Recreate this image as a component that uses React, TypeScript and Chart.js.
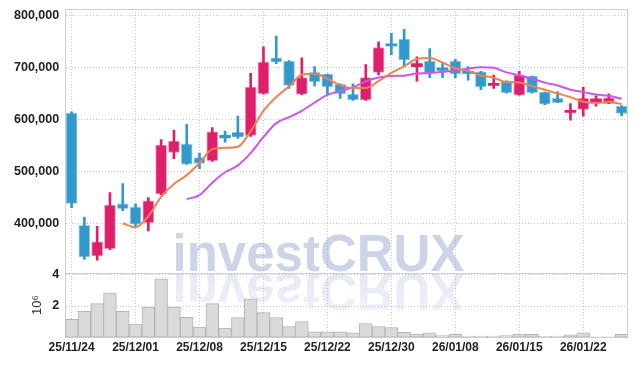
import React, { useEffect, useRef } from 'react';
import { Chart, registerables } from 'chart.js';
Chart.register(...registerables);

const dates = ['25/11/24','25/11/25','25/11/26','25/11/27','25/11/28','25/12/01','25/12/02','25/12/03','25/12/04','25/12/05','25/12/08','25/12/09','25/12/10','25/12/11','25/12/12','25/12/15','25/12/16','25/12/17','25/12/18','25/12/19','25/12/22','25/12/23','25/12/24','25/12/26','25/12/29','25/12/30','26/01/02','26/01/05','26/01/06','26/01/07','26/01/08','26/01/09','26/01/12','26/01/13','26/01/14','26/01/15','26/01/16','26/01/19','26/01/20','26/01/21','26/01/22','26/01/23','26/01/26','26/01/27'];

const opens = [612000,396000,337000,351000,437000,431000,401000,456000,536000,552000,526000,520000,569000,574000,569000,649000,718000,712000,648000,690000,687000,667000,648000,637000,690000,744000,754000,701000,712000,699000,712000,691000,691000,665000,674000,646000,683000,652000,640000,613000,619000,633000,630000,625000];
const highs = [614000,411000,394000,459000,476000,437000,449000,561000,579000,590000,535000,584000,577000,606000,688000,739000,760000,713000,718000,701000,687000,668000,668000,705000,749000,765000,773000,720000,736000,707000,715000,701000,692000,685000,674000,692000,683000,652000,653000,630000,662000,645000,649000,626000];
const lows = [430000,330000,329000,349000,424000,393000,385000,455000,524000,513000,505000,519000,556000,563000,567000,648000,707000,659000,647000,664000,648000,640000,636000,636000,685000,724000,701000,673000,680000,680000,680000,675000,657000,659000,650000,646000,650000,628000,632000,598000,606000,625000,630000,607000];
const closes = [438000,335000,364000,435000,428000,398000,443000,550000,558000,513500,515000,575600,564000,567000,662000,710000,709600,665000,680000,672000,662000,649000,637000,680000,738000,741000,714000,707000,689000,694000,687000,688000,662000,669000,651000,685000,651000,629000,632000,615000,640000,639000,641000,611000];
const ma5 = [null,null,null,null,399900,391900,413500,450600,475300,492400,515800,542400,545200,547100,576800,615900,642700,662800,685400,687300,677700,665600,660000,660000,673200,689000,701800,715900,717700,709000,698100,692900,684000,679900,671200,670800,663300,656700,649400,642400,633400,631000,633400,629100];
const ma10 = [null,null,null,null,null,null,null,null,null,446200,453900,477900,497900,511200,534600,565800,592500,604000,616200,632100,646800,654200,661400,672700,680300,683300,683700,688000,688800,691100,693500,697400,700000,698800,690100,684400,678100,670300,664700,656800,652100,647300,645100,639400];
const volumes = [1160000,1670000,2150000,2840000,1670000,850000,1940000,3720000,1940000,1290000,660000,2150000,600000,1270000,2460000,1580000,1270000,700000,1020000,370000,370000,370000,300000,890000,700000,640000,330000,220000,300000,120000,200000,100000,100000,100000,120000,220000,200000,80000,100000,180000,300000,50000,50000,200000];
const priceTicks = [400000, 500000, 600000, 700000, 800000];
const volumeTicks = [0, 2000000, 4000000];

const UP = '#e01f6b';
const UP_EDGE = 'rgba(224,31,107,0.45)';
const DOWN = '#3399cc';
const DOWN_EDGE = 'rgba(51,153,204,0.45)';
const GRID = 'rgba(165,175,200,0.7)';
const FRAME = '#d0d0d0';
const Y_FONT = { family: "'Liberation Sans', Arial, sans-serif", size: 12.5, weight: 'bold' as const };
const X_FONT = { family: "'Liberation Sans', Arial, sans-serif", size: 12, weight: 'bold' as const };

const noPadY = (s: any) => { s.paddingTop = 0; s.paddingBottom = 0; };
const noPadX = (s: any) => { s.paddingLeft = 0; s.paddingRight = 0; };

const watermark = {
  id: 'watermark',
  beforeDraw(chart: any) {
    const ys = chart.scales.y;
    if (!ys) return;
    const ctx = chart.ctx;
    const cx = chart.width / 2;
    const by = ys.bottom - 2;
    ctx.save();
    ctx.font = 'bold 51px "Liberation Sans", Arial, sans-serif';
    ctx.textAlign = 'center';
    ctx.textBaseline = 'alphabetic';
    ctx.fillStyle = '#cdd4e8';
    ctx.fillText('investCRUX', cx, by);
    const m = by + 3;
    ctx.translate(0, m);
    ctx.scale(1, -1);
    ctx.translate(0, -m);
    const g = ctx.createLinearGradient(0, m, 0, m - 45);
    g.addColorStop(0, 'rgba(205,212,232,0.5)');
    g.addColorStop(1, 'rgba(205,212,232,0.3)');
    ctx.fillStyle = g;
    ctx.fillText('investCRUX', cx, m);
    ctx.restore();
  },
};

const frame = {
  id: 'frame',
  afterDatasetsDraw(chart: any) {
    const { ctx, chartArea } = chart;
    const ys = chart.scales.y;
    ctx.save();
    ctx.strokeStyle = FRAME;
    ctx.lineWidth = 1;
    ctx.beginPath();
    ctx.moveTo(chartArea.left, Math.round(chartArea.top) + 0.5);
    ctx.lineTo(chartArea.right, Math.round(chartArea.top) + 0.5);
    ctx.moveTo(Math.round(chartArea.right) - 0.5, chartArea.top);
    ctx.lineTo(Math.round(chartArea.right) - 0.5, chartArea.bottom);
    ctx.moveTo(chartArea.left, Math.round(ys.bottom) + 0.5);
    ctx.lineTo(chartArea.right, Math.round(ys.bottom) + 0.5);
    ctx.stroke();
    ctx.restore();
  },
};

export default function App() {
  const ref = useRef<HTMLCanvasElement>(null);
  useEffect(() => {
    if (!ref.current) return;
    const colors = closes.map((c, i) => (c >= opens[i] ? UP : DOWN));
    const edges = closes.map((c, i) => (c >= opens[i] ? UP_EDGE : DOWN_EDGE));
    const chart = new Chart(ref.current, {
      type: 'bar',
      data: {
        labels: dates,
        datasets: [
          { type: 'line', label: 'MA5', data: ma5 as any, borderColor: '#ef8250', borderWidth: 2, pointRadius: 0, cubicInterpolationMode: 'monotone', yAxisID: 'y', order: 0 },
          { type: 'line', label: 'MA10', data: ma10 as any, borderColor: '#cc55ee', borderWidth: 2, pointRadius: 0, cubicInterpolationMode: 'monotone', yAxisID: 'y', order: 1 },
          { type: 'bar', label: 'body', data: opens.map((o, i) => [o, closes[i]]) as any, backgroundColor: colors, borderColor: edges, borderWidth: (c: any) => (Math.abs(opens[c.dataIndex] - closes[c.dataIndex]) < 8000 ? 0 : 1), borderSkipped: false, barThickness: 11, minBarLength: 2, grouped: false, yAxisID: 'y', order: 2 },
          { type: 'bar', label: 'wick', data: lows.map((l, i) => [l, highs[i]]) as any, backgroundColor: colors, barThickness: 2, grouped: false, yAxisID: 'y', order: 3 },
          { type: 'bar', label: 'volume', data: volumes, backgroundColor: '#dadada', borderColor: '#b4b4b4', borderWidth: 1, borderSkipped: false, barPercentage: 1, categoryPercentage: 1, grouped: false, yAxisID: 'yv', order: 4 },
        ] as any,
      },
      options: {
        responsive: false,
        animation: false,
        layout: { padding: { top: 1, right: 1, left: 0, bottom: 0 } },
        plugins: { legend: { display: false }, tooltip: { enabled: false } },
        scales: {
          x: {
            type: 'category',
            offset: true,
            grid: { offset: false, color: GRID, drawTicks: false },
            border: { display: true, color: FRAME, dash: [1, 2] },
            ticks: { autoSkip: false, maxRotation: 0, padding: 3, font: X_FONT, color: '#222' },
            afterBuildTicks: (s: any) => { s.ticks = s.ticks.filter((t: any) => t.value % 5 === 0); },
            afterFit: noPadX,
          },
          y: {
            type: 'linear',
            position: 'left',
            stack: 'panels',
            stackWeight: 4.05,
            weight: 1,
            min: 305000,
            max: 812000,
            grid: { color: GRID, drawTicks: false },
            border: { display: true, color: FRAME, dash: [1, 2] },
            afterBuildTicks: (s: any) => { s.ticks = priceTicks.map((v) => ({ value: v })); },
            afterFit: noPadY,
            ticks: { autoSkip: false, padding: 6, font: Y_FONT, color: '#222', callback: (v: any) => Number(v).toLocaleString('en-US') },
          },
          yv: {
            type: 'linear',
            position: 'left',
            stack: 'panels',
            stackWeight: 1,
            weight: 0,
            min: 0,
            max: 4120000,
            grid: { color: GRID, drawTicks: false },
            border: { display: true, color: FRAME, dash: [1, 2] },
            afterBuildTicks: (s: any) => { s.ticks = volumeTicks.map((v) => ({ value: v })); },
            afterFit: noPadY,
            title: { display: true, text: '10⁶', color: '#333', font: { family: "'Liberation Sans', Arial, sans-serif", size: 13 }, padding: { top: 22, bottom: 0 } },
            ticks: { autoSkip: false, padding: 6, font: Y_FONT, color: '#222', callback: (v: any) => (v === 0 ? '' : String(v / 1000000)) },
          },
        } as any,
      },
      plugins: [watermark, frame],
    });
    return () => chart.destroy();
  }, []);
  return <canvas ref={ref} width={621} height={350} style={{ display: 'block' }} />;
}
